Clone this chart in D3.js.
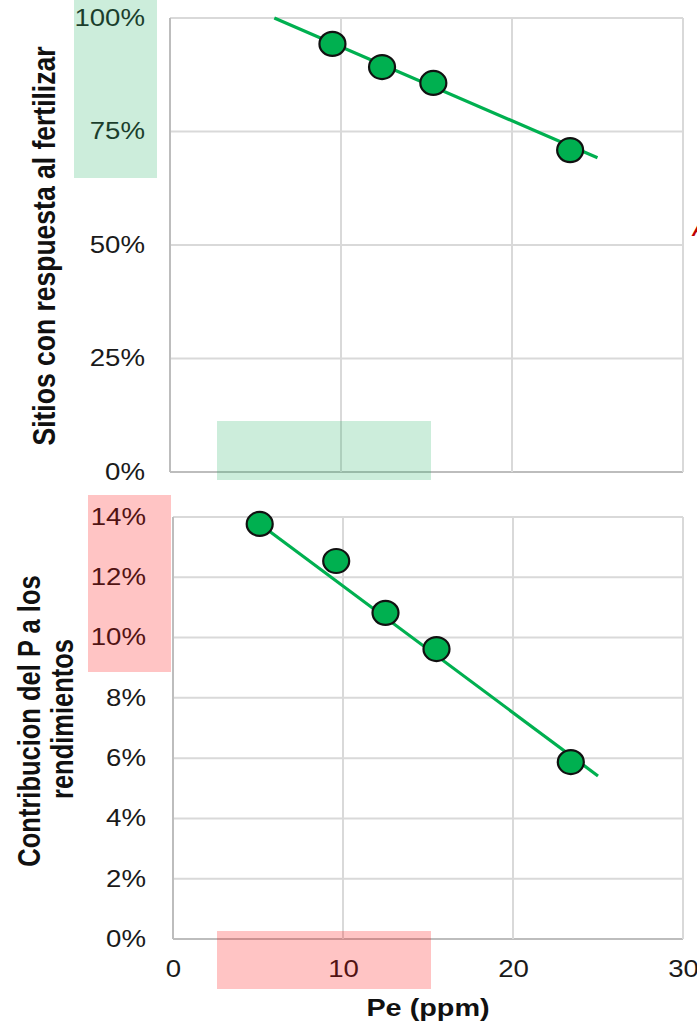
<!DOCTYPE html>
<html><head><meta charset="utf-8">
<script src="https://cdn.jsdelivr.net/npm/d3@7"></script>
<style>body{margin:0;background:#fff;} text{font-family:"Liberation Sans",Arial,sans-serif;}</style>
</head><body>
<svg id="c" width="697" height="1024"></svg>
<script>
// Top chart: Sitios con respuesta al fertilizar
const topX = [9.5, 12.4, 15.4, 23.4];
const topY = [0.943, 0.892, 0.857, 0.709];
const topTrend = [[6.1, 1.0], [25, 0.692]];
const topYTicks = [0, 0.25, 0.5, 0.75, 1.0];
// Bottom chart: Contribucion del P a los rendimientos
const botX = [5.1, 9.6, 12.5, 15.5, 23.4];
const botY = [0.1377, 0.1254, 0.1082, 0.0962, 0.0587];
const botTrend = [[5.1, 0.1377], [25, 0.0541]];
const botYTicks = [0, 0.02, 0.04, 0.06, 0.08, 0.10, 0.12, 0.14];
const xTicks = [0, 10, 20, 30];

const svg = d3.select("#c");
const pct = d3.format(".0%");
const green = "#00b050";
const SX = 1.2;      // horizontal stretch of the original picture
const TF = 23;       // tick font size

function panel(cfg) {
  const x = d3.scaleLinear().domain([0, 30]).range([cfg.left, 683]);
  const y = d3.scaleLinear().domain(cfg.yDomain).range([cfg.bottom, cfg.top]);
  const g = svg.append("g");
  g.selectAll("line.h").data(cfg.yTicks).join("line")
    .attr("x1", cfg.left).attr("x2", 683).attr("y1", d => y(d)).attr("y2", d => y(d))
    .attr("stroke", d => d === 0 ? "#bdbdbd" : "#d9d9d9").attr("stroke-width", 2);
  g.selectAll("line.v").data(xTicks).join("line")
    .attr("x1", d => x(d)).attr("x2", d => x(d)).attr("y1", cfg.top).attr("y2", cfg.bottom)
    .attr("stroke", d => d === 0 ? "#bdbdbd" : "#d9d9d9").attr("stroke-width", 2);
  const ya = d3.axisLeft(y).tickValues(cfg.yTicks).tickFormat(pct).tickSize(0).tickPadding(0);
  const yg = g.append("g").attr("transform", `translate(${cfg.left},0)`).call(ya);
  yg.select(".domain").remove();
  yg.selectAll("text").attr("font-size", TF).attr("fill", "#1a1a1a")
    .style("font-family", "'Liberation Sans', Arial, sans-serif")
    .attr("x", null).attr("transform", `translate(${-cfg.pad},0) scale(${SX},1)`);
  if (cfg.showX) {
    const xa = d3.axisBottom(x).tickValues(xTicks).tickFormat(d3.format("d")).tickSize(0).tickPadding(22);
    const xg = g.append("g").attr("transform", `translate(0,${cfg.bottom})`).call(xa);
    xg.select(".domain").remove();
    xg.selectAll("text").attr("font-size", TF).attr("fill", "#1a1a1a")
      .style("font-family", "'Liberation Sans', Arial, sans-serif")
      .attr("transform", `scale(${SX},1)`);
  }
  g.append("path").datum(cfg.trend)
    .attr("d", d3.line().x(d => x(d[0])).y(d => y(d[1])))
    .attr("stroke", green).attr("stroke-width", 3.2).attr("fill", "none");
  g.selectAll("ellipse").data(cfg.xs.map((v, i) => [v, cfg.ys[i]])).join("ellipse")
    .attr("cx", d => x(d[0])).attr("cy", d => y(d[1])).attr("rx", 13).attr("ry", 12)
    .attr("fill", green).attr("stroke", "#111").attr("stroke-width", 2.2);
}

panel({left: 170, top: 18, bottom: 472, pad: 25, yDomain: [0, 1], yTicks: topYTicks,
  xs: topX, ys: topY, trend: topTrend, showX: false});
panel({left: 173, top: 517, bottom: 939, pad: 27, yDomain: [0, 0.14], yTicks: botYTicks,
  xs: botX, ys: botY, trend: botTrend, showX: true});

// axis titles (rotated, stretched horizontally like the source picture)
function vtitle(txt, x, y, size) {
  svg.append("text").attr("transform", `translate(${x},${y}) scale(${SX},1) rotate(-90)`)
    .attr("text-anchor", "middle").attr("font-weight", "bold").attr("font-size", size)
    .attr("fill", "#111").text(txt);
}
vtitle("Sitios  con respuesta al fertilizar", 55, 246, 26.5);
vtitle("Contribucion del P a los", 40, 721, 25.5);
vtitle("rendimientos", 73, 719, 25.5);
svg.append("text").attr("transform", `translate(428,1016) scale(${SX},1)`).attr("text-anchor", "middle")
  .attr("font-weight", "bold").attr("font-size", 24).attr("fill", "#111").text("Pe (ppm)");

// stray fragment at right edge (cut off in the source as well)
svg.append("text").attr("x", 692).attr("y", 236).attr("font-weight", "bold").attr("font-style", "italic")
  .attr("font-size", 20).attr("fill", "#c00000").text("A");

// translucent highlight boxes
const hl = [
  {x: 74, y: 0, w: 83, h: 178, c: "rgb(35,179,99)"},
  {x: 217, y: 421, w: 214, h: 59, c: "rgb(35,179,99)"},
  {x: 88, y: 495, w: 83, h: 177, c: "rgb(255,0,0)"},
  {x: 217, y: 931, w: 214, h: 58, c: "rgb(255,0,0)"}
];
svg.selectAll("rect.hl").data(hl).join("rect").attr("class", "hl")
  .attr("x", d => d.x).attr("y", d => d.y).attr("width", d => d.w).attr("height", d => d.h)
  .attr("fill", d => d.c).attr("fill-opacity", 0.23);
</script>
</body></html>
